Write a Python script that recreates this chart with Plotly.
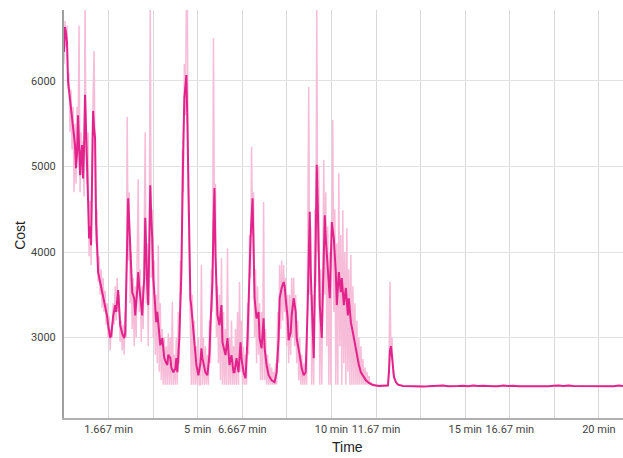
import plotly.graph_objects as go

# Seconds per optimiser step (both traces are logged on the same step counter)
SAMPLE_S = 2.25

# Raw cost, one value per step for steps 0..338, then the converged tail
raw_cost = [
    6200, 6700, 6400, 6650, 5900, 6100, 5400, 5900, 5200, 5700,
    4700, 5500, 4800, 5700, 5300, 6650, 4700, 5400, 4900, 5300,
    4650, 6900, 5200, 4800, 5400, 3950, 4600, 3850, 5200, 5800,
    6350, 5000, 4100, 4500, 3650, 3950, 3500, 3800, 3350, 3700,
    3300, 3550, 3150, 3400, 3000, 3250, 2850, 3100, 3000, 3400,
    3150, 3600, 3200, 3700, 3300, 3500, 2950, 3200, 2850, 3150,
    2800, 3300, 3000, 5580, 3900, 4700, 3400, 4000, 3100, 3700,
    2900, 3600, 3000, 4000, 4850, 3300, 3800, 2950, 3600, 3100,
    4200, 5400, 3400, 4100, 2900, 4200, 6900, 3700, 4500, 3000,
    3900, 2800, 3500, 2700, 4080, 2600, 3400, 2500, 3100, 2450,
    3000, 2450, 2900, 2450, 3050, 2450, 3000, 2450, 3420, 2450,
    2800, 2450, 3000, 2450, 3300, 2700, 3900, 3500, 5200, 4700,
    6200, 5600, 6900, 6900, 4500, 3800, 3300, 2450, 3500, 2450,
    3200, 2450, 2900, 2450, 3000, 2450, 2450, 3850, 2450, 3000,
    2450, 2900, 2450, 2800, 2450, 3200, 2700, 3800, 3300, 6500,
    4200, 4800, 3000, 3600, 2700, 3500, 2500, 3930, 2450, 3300,
    2450, 3100, 2450, 4045, 2450, 3000, 2450, 3200, 2450, 2900,
    2450, 3100, 2450, 3300, 2450, 3650, 2600, 3200, 2450, 2900,
    2450, 2800, 2450, 3400, 2800, 4200, 3700, 5230, 4200, 4700,
    3000, 3800, 2700, 3600, 2800, 3400, 2500, 3300, 2500, 4585,
    2500, 3100, 2450, 2800, 2450, 2700, 2450, 2650, 2450, 2600,
    2450, 2700, 2450, 3300, 2700, 3850, 3100, 3900, 3200, 3850,
    3300, 3700, 2900, 3500, 2700, 3500, 2800, 3700, 3000, 3700,
    2900, 3500, 2700, 3200, 2500, 3000, 2450, 2800, 2450, 2700,
    2450, 2800, 2450, 3900, 5930, 3500, 4300, 2450, 3500, 2450,
    4500, 3600, 6900, 4000, 5000, 2450, 3800, 2450, 4300, 5075,
    3500, 4700, 2900, 4300, 2450, 4000, 2450, 4600, 5545, 3300,
    4500, 2450, 4100, 2450, 4920, 2900, 4200, 2450, 4490, 2700,
    4000, 2450, 4280, 2600, 3800, 2450, 3965, 2450, 3600, 2450,
    3400, 2450, 3200, 2450, 3000, 2450, 2900, 2450, 2750, 2450,
    2650, 2450, 2600, 2450, 2550, 2450, 2480, 2450, 2460, 2440,
    2450, 2440, 2440, 2445, 2440, 2440, 2445, 2440, 2440, 2445,
    2440, 2440, 2445, 2450, 2700, 3650, 2800, 3000, 2600, 2520,
    2490, 2470, 2455, 2450, 2445, 2440, 2440, 2438, 2435,
]

# Converged phase, logged every 5 steps
tail_step = [
    343, 348, 353, 358, 363, 368, 373, 378, 383, 388, 393,
    398, 403, 408, 413, 418, 423, 428, 433, 438, 443, 448,
    453, 458, 463, 468, 473, 478, 483, 488, 493, 498, 503,
    508, 513, 518, 523, 528, 533, 538, 543, 548, 553, 558,
]
tail_cost = [
    2432, 2430, 2431, 2429, 2430, 2431, 2433, 2440, 2431, 2430, 2434,
    2438, 2432, 2439, 2433, 2436, 2430, 2431, 2432, 2440, 2433, 2437,
    2431, 2430, 2429, 2431, 2434, 2430, 2432, 2437, 2440, 2434, 2441,
    2433, 2432, 2438, 2432, 2431, 2430, 2432, 2433, 2431, 2439, 2433,
]

# Smoothed cost during the search phase (step, value)
smooth_step = [
    0, 1, 2, 3, 4, 6, 9, 11, 12, 13, 14, 15, 16, 17, 18, 19, 20, 21, 22, 23,
    24, 25, 26, 27, 28, 29, 30, 31, 32, 33, 34, 36, 38, 40, 41, 43, 44, 46, 47, 49,
    51, 52, 54, 55, 56, 58, 60, 61, 62, 63, 64, 65, 66, 68, 70, 71, 73, 74, 75, 76,
    78, 79, 80, 81, 82, 83, 84, 85, 86, 87, 88, 89, 90, 92, 93, 95, 96, 98, 99, 100,
    102, 103, 104, 106, 107, 109, 111, 112, 113, 114, 115, 117, 118, 119, 120, 121, 122, 123, 124, 125,
    126, 127, 128, 129, 130, 132, 134, 136, 137, 138, 140, 141, 143, 145, 146, 148, 149, 150, 151, 152,
    153, 155, 157, 158, 160, 161, 163, 164, 165, 167, 169, 170, 172, 174, 176, 177, 179, 181, 183, 185,
    186, 188, 189, 190, 192, 194, 195, 197, 199, 200, 202, 204, 207, 210, 212, 214, 215, 217, 219, 220,
    221, 223, 224, 226, 227, 229, 231, 232, 235, 237, 239, 241, 243, 245, 246, 248, 249, 251, 252, 253,
    255, 257, 259, 260, 261, 263, 265, 267, 269, 271, 272, 274, 276, 277, 279, 281, 283, 284, 286, 288,
    289, 291, 293, 294, 296, 298, 301, 304, 308, 314, 323, 324, 325, 326, 327, 328, 329, 331, 333, 338,
]
smooth_cost = [
    6340, 6630, 6560, 6450, 6000, 5800, 5520, 5250, 4980, 5150, 5600, 5300, 4900, 5150, 5250, 4860, 5200, 5840, 5500, 5050,
    4600, 4160, 4300, 4080, 4935, 5650, 5450, 5330, 4350, 4000, 3765, 3650, 3530, 3450, 3380, 3250, 3145, 3000, 3020, 3250,
    3380, 3300, 3555, 3400, 3145, 3050, 2995, 3050, 3600, 4080, 4630, 4350, 4000, 3530, 3460, 3260, 3550, 3765, 3600, 3460,
    3260, 3500, 3695, 4400, 3850, 3600, 3380, 3930, 4780, 4400, 4160, 3695, 3530, 3180, 3300, 3060, 2910, 2995, 2850, 2760,
    2700, 2680, 2800, 2760, 2650, 2595, 2640, 2760, 2595, 2800, 2995, 3765, 4865, 5300, 5800, 5950, 6070, 5520, 4800, 4160,
    3460, 3350, 3225, 3100, 2995, 2680, 2560, 2700, 2875, 2760, 2650, 2595, 2560, 2800, 3145, 3650, 4300, 4750, 3965, 3500,
    3260, 3145, 3380, 2945, 2850, 2795, 2995, 2800, 2680, 2795, 2595, 2595, 2760, 2595, 2945, 2750, 2595, 2525, 2995, 3765,
    4160, 4630, 4080, 3460, 3225, 3300, 2995, 2875, 3225, 2875, 2680, 2560, 2500, 2480, 2595, 2995, 3460, 3580, 3650, 3600,
    3460, 3225, 2970, 3060, 3260, 3460, 3300, 2995, 2795, 2640, 2560, 2595, 3380, 4470, 3765, 2995, 2760, 4160, 5020, 4550,
    3380, 2995, 4160, 4430, 4160, 3850, 3460, 4350, 4160, 3765, 3380, 3765, 3530, 3695, 3380, 3580, 3260, 3460, 3180, 3060,
    2995, 2875, 2760, 2680, 2595, 2560, 2500, 2470, 2445, 2435, 2440, 2600, 2850, 2900, 2750, 2620, 2540, 2480, 2450, 2435,
]

# Axis ticks: every 100 s, some labels left blank where they would crowd
tick_seconds = [100, 200, 300, 400, 500, 600, 700, 800, 900, 1000, 1100, 1200]
tick_labels = ["1.667 min", "", "5 min", "6.667 min", "", "10 min", "11.67 min",
               "", "15 min", "16.67 min", "", "20 min"]
cost_ticks = [3000, 4000, 5000, 6000]

raw_step = list(range(len(raw_cost))) + tail_step
raw_all = raw_cost + tail_cost
raw_t = [s * SAMPLE_S for s in raw_step]

smooth_all_step = smooth_step + tail_step
smooth_all = smooth_cost + tail_cost
smooth_t = [s * SAMPLE_S for s in smooth_all_step]

fig = go.Figure()
fig.add_trace(go.Scatter(
    x=raw_t, y=raw_all, mode="lines",
    line=dict(color="#f7bcd8", width=1.5),
    hoverinfo="skip", showlegend=False,
))
fig.add_trace(go.Scatter(
    x=smooth_t, y=smooth_all, mode="lines",
    line=dict(color="#e3238c", width=2),
    showlegend=False,
))

title_font = dict(family="Liberation Sans, Arial", size=14, color="#222")
fig.update_layout(
    width=623, height=458,
    margin=dict(l=64, r=0, t=10, b=40),
    paper_bgcolor="white", plot_bgcolor="white",
    font=dict(family="Roboto, Arial, sans-serif", size=11, color="#444"),
    annotations=[
        dict(text="Time", x=0.508, y=-0.071, xref="paper", yref="paper",
             xanchor="center", yanchor="middle", showarrow=False, font=title_font),
        dict(text="Cost", x=-0.079, y=0.4485, xref="paper", yref="paper", textangle=-90,
             xanchor="center", yanchor="middle", showarrow=False, font=title_font),
    ],
)
fig.update_xaxes(
    range=[0, 1254], tickmode="array", tickvals=tick_seconds, ticktext=tick_labels,
    showgrid=True, gridcolor="#d8d8d8", gridwidth=1,
    showline=True, linecolor="#b0b0b0", linewidth=2,
    ticks="", zeroline=False,
)
fig.update_yaxes(
    range=[2060, 6830], tickmode="array", tickvals=cost_ticks,
    showgrid=True, gridcolor="#e2e2e2", gridwidth=1,
    showline=True, linecolor="#a0a0a0", linewidth=2,
    ticks="outside", ticklen=4, tickcolor="rgba(0,0,0,0)", zeroline=False,
)

fig.write_html("out.html")
